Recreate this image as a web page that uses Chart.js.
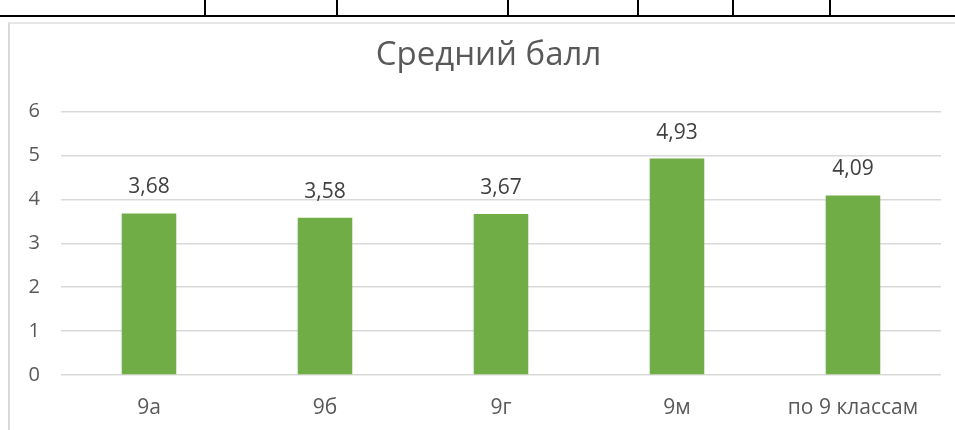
<!DOCTYPE html>
<html lang="ru"><head>
<meta charset="utf-8">
<title>Средний балл</title>
<style type="text/css">
body { margin:0; background:#ffffff; width:955px; height:430px; overflow:hidden; position:relative; }
.hline { position:absolute; left:0; top:15px; width:955px; height:2px; background:#000000; }
.vline { position:absolute; top:0; width:2px; height:16px; background:#000000; }
#chart1 { position:absolute; left:8px; top:22px; width:958px; height:408px;
          border-left:2px solid #d9d9d9; border-top:2px solid #e6e6e6; box-sizing:border-box; }
</style>
<script src="https://cdn.jsdelivr.net/npm/chart.js"></script>
<script>
classes=['9а','9б','9г','9м','по 9 классам'];
scores=[3.68,3.58,3.67,4.93,4.09];
scoreText=['3,68','3,58','3,67','4,93','4,09'];
yTicks=[0,1,2,3,4,5,6];
tableCols=[204,336,507,637,732,829];

fontName='"Open Sans","Noto Sans",sans-serif';

valueLabels={id:'valueLabels',afterDatasetsDraw:function(chart){
  ctx=chart.ctx; meta=chart.getDatasetMeta(0);
  ctx.save(); ctx.fillStyle='#404040'; ctx.font='21px '+fontName;
  ctx.textAlign='center'; ctx.textBaseline='middle';
  for (i=0;i<meta.data.length;i++) {
    bar=meta.data[i];
    ctx.fillText(scoreText[i],bar.x,bar.y-26); }
  ctx.restore(); }};

// title is centred over the whole frame, not over the padded box
titleShift={id:'titleShift',afterLayout:function(chart){
  if (chart.titleBlock) { chart.titleBlock.left+=13; chart.titleBlock.right+=13; } }};

function initChart() {
  for (i=0;i<tableCols.length;i++) {
    d=document.createElement('div'); d.className='vline'; d.style.left=tableCols[i]+'px';
    document.body.appendChild(d); }

  data={labels:classes,datasets:[{
    label:'Средний балл',data:scores,
    backgroundColor:'#70ad47',borderWidth:0,
    categoryPercentage:1,barPercentage:0.31}]};

  config={type:'bar',data,plugins:[valueLabels,titleShift],options:{
    responsive:true,maintainAspectRatio:false,animation:false,
    layout:{padding:{left:0,right:25,top:0,bottom:0}},
    plugins:{
      legend:{display:false},tooltip:{enabled:false},
      title:{display:true,text:'Средний балл',color:'#595959',
        font:{family:fontName,size:33,weight:'normal'},padding:{top:12,bottom:36}}},
    scales:{
      x:{grid:{display:false,drawTicks:false},border:{display:false},
        afterFit:function(s){s.height=55;},
        ticks:{color:'#595959',font:{family:fontName,size:21},padding:20}},
      y:{min:0,max:6,grid:{color:'#d9d9d9',lineWidth:1.5,drawTicks:false},border:{display:false},
        afterFit:function(s){s.width=51;},
        afterBuildTicks:function(s){s.ticks=yTicks.map(function(v){return {value:v};});},
        ticks:{color:'#595959',font:{family:fontName,size:20},padding:21}}}}};

  myChart=new Chart(document.getElementById('myChart'),config); }
</script></head>
<body onload="initChart();">
<div class="hline"></div>
<div id="chart1">
  <canvas id="myChart"></canvas>
</div>
</body></html>
